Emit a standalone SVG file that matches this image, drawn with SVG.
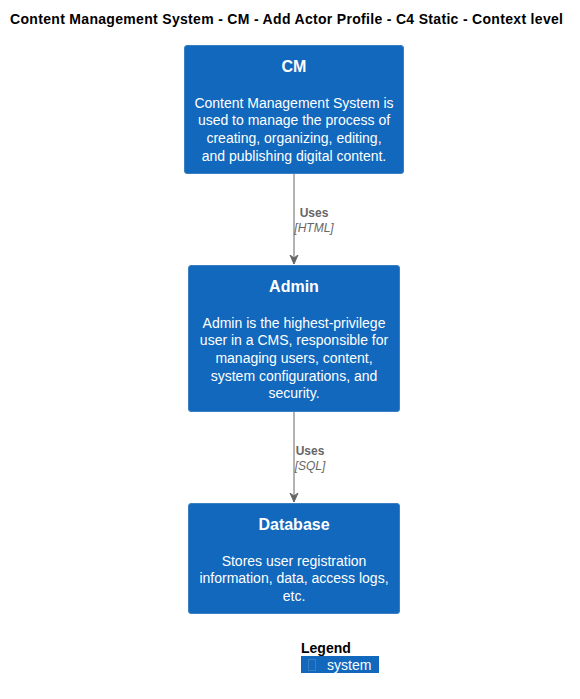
<svg xmlns="http://www.w3.org/2000/svg" width="580" height="699" viewBox="0 0 580 699">
<defs>
<style>
.box{fill:#1168BD;stroke:#3C7FC0;stroke-width:1}
.t{font-family:"Liberation Sans",Arial,sans-serif;fill:#FFFFFF;text-anchor:middle}
.nm{font-size:16px;font-weight:bold}
.ds{font-size:14px}
.lbl{font-family:"Liberation Sans",Arial,sans-serif;font-size:12px;fill:#666666;text-anchor:middle}
.edge{stroke:#666666;stroke-width:1;fill:none}
</style>
<marker id="arr" markerWidth="10" markerHeight="10" refX="9" refY="5" orient="auto" markerUnits="userSpaceOnUse">
<path d="M0,1 L9,5 L0,9 L3,5 Z" fill="#666666" stroke="#666666" stroke-width="1"/>
</marker>
</defs>
<rect width="580" height="699" fill="#FFFFFF"/>
<text x="10" y="24" font-family="Liberation Sans,Arial,sans-serif" font-size="14" font-weight="bold" fill="#000000" textLength="553" lengthAdjust="spacing">Content Management System - CM - Add Actor Profile - C4 Static - Context level</text>

<g id="edges">
<g id="e1">
<line class="edge" x1="294" y1="174" x2="294" y2="264" marker-end="url(#arr)"/>
<text class="lbl" x="314" y="217" font-weight="bold">Uses</text>
<text class="lbl" x="314" y="232" font-style="italic">[HTML]</text>
</g>
<g id="e2">
<line class="edge" x1="294" y1="412" x2="294" y2="502" marker-end="url(#arr)"/>
<text class="lbl" x="310" y="455" font-weight="bold">Uses</text>
<text class="lbl" x="310" y="470" font-style="italic">[SQL]</text>
</g>
</g>

<g id="CM">
<rect class="box" x="184.5" y="45.5" width="219" height="128" rx="2.5"/>
<text class="t nm" x="294" y="72">CM</text>
<text class="t ds" x="294" y="108">Content Management System is</text>
<text class="t ds" x="294" y="125">used to manage the process of</text>
<text class="t ds" x="294" y="143">creating, organizing, editing,</text>
<text class="t ds" x="294" y="161">and publishing digital content.</text>
</g>

<g id="Admin">
<rect class="box" x="188.5" y="265.5" width="211" height="146" rx="2.5"/>
<text class="t nm" x="294" y="292">Admin</text>
<text class="t ds" x="294" y="328">Admin is the highest-privilege</text>
<text class="t ds" x="294" y="345">user in a CMS, responsible for</text>
<text class="t ds" x="294" y="363">managing users, content,</text>
<text class="t ds" x="294" y="381">system configurations, and</text>
<text class="t ds" x="294" y="398">security.</text>
</g>

<g id="Database">
<rect class="box" x="188.5" y="503.5" width="211" height="110" rx="2.5"/>
<text class="t nm" x="294" y="530">Database</text>
<text class="t ds" x="294" y="566">Stores user registration</text>
<text class="t ds" x="294" y="583">information, data, access logs,</text>
<text class="t ds" x="294" y="601">etc.</text>
</g>

<g id="legend">
<text x="301" y="653" font-family="Liberation Sans,Arial,sans-serif" font-size="14" font-weight="bold" fill="#000000">Legend</text>
<rect x="301" y="656" width="78" height="17" fill="#1168BD"/>
<rect x="308.5" y="659.5" width="7" height="11" fill="none" stroke="#3C7FC0" stroke-width="1"/>
<text x="327" y="670" font-family="Liberation Sans,Arial,sans-serif" font-size="14" fill="#FFFFFF">system</text>
</g>
</svg>
